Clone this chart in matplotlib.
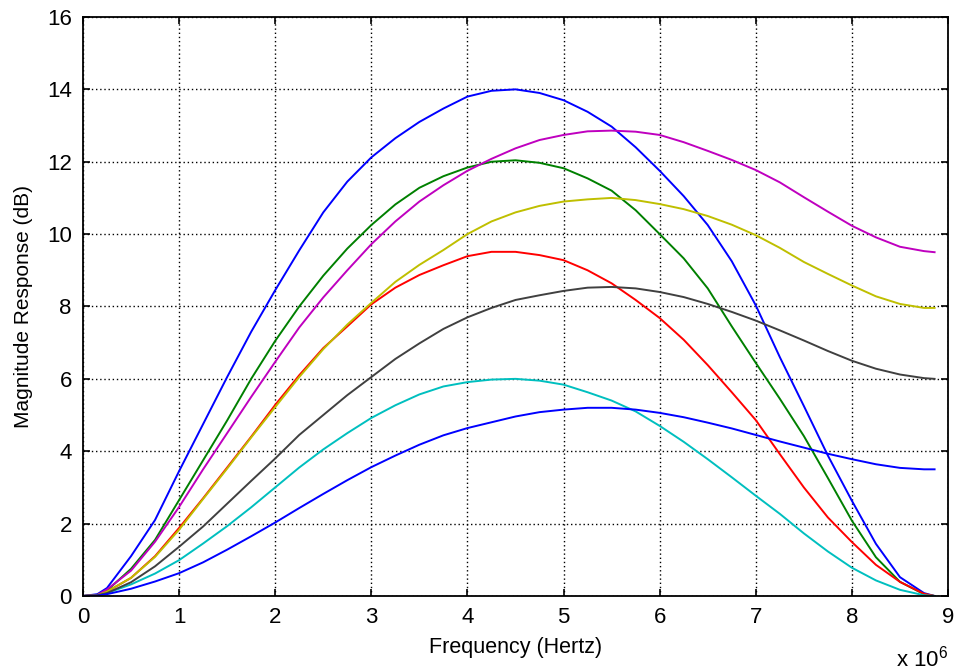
import numpy as np
import matplotlib
matplotlib.use('Agg')
import matplotlib.pyplot as plt
from matplotlib.ticker import FuncFormatter

plt.rcParams['font.family'] = ['Liberation Sans', 'DejaVu Sans']
plt.rcParams['mathtext.default'] = 'regular'

# frequency samples (MHz)
freq = [0, 0.15, 0.25, 0.5, 0.75, 1.0, 1.25, 1.5, 1.75, 2.0, 2.25, 2.5, 2.75, 3.0, 3.25, 3.5,
        3.75, 4.0, 4.25, 4.5, 4.75, 5.0, 5.25, 5.5, 5.75, 6.0, 6.25, 6.5, 6.75, 7.0, 7.25, 7.5,
        7.75, 8.0, 8.25, 8.5, 8.75, 8.86]

# magnitude responses (dB), one list per curve
blue_hi = [0, 0.05, 0.22, 1.1, 2.1, 3.45, 4.75, 6.05, 7.3, 8.45, 9.55, 10.6, 11.45, 12.12, 12.65, 13.1,
           13.47, 13.8, 13.96, 14.0, 13.9, 13.7, 13.38, 12.97, 12.4, 11.75, 11.05, 10.25, 9.25, 8.03,
           6.6, 5.25, 3.88, 2.63, 1.44, 0.52, 0.08, 0]
green = [0, 0.03, 0.15, 0.75, 1.55, 2.65, 3.75, 4.85, 6.0, 7.05, 8.0, 8.85, 9.6, 10.25, 10.82, 11.28,
         11.6, 11.84, 12.0, 12.04, 11.97, 11.82, 11.54, 11.2, 10.66, 10.0, 9.33, 8.5, 7.45, 6.44,
         5.45, 4.42, 3.26, 2.08, 1.07, 0.39, 0.05, 0]
red = [0, 0.02, 0.12, 0.5, 1.1, 1.88, 2.7, 3.55, 4.4, 5.28, 6.1, 6.85, 7.45, 8.06, 8.52, 8.87,
       9.14, 9.39, 9.51, 9.51, 9.42, 9.28, 9.0, 8.64, 8.18, 7.68, 7.08, 6.38, 5.63, 4.86,
       3.92, 3.0, 2.17, 1.49, 0.86, 0.39, 0.06, 0]
cyan = [0, 0.02, 0.08, 0.32, 0.62, 0.99, 1.45, 1.93, 2.45, 3.0, 3.55, 4.05, 4.5, 4.92, 5.27, 5.57,
        5.79, 5.91, 5.98, 6.0, 5.95, 5.84, 5.63, 5.4, 5.1, 4.7, 4.26, 3.78, 3.28, 2.77,
        2.27, 1.73, 1.23, 0.78, 0.43, 0.17, 0.02, 0]
magenta = [0, 0.03, 0.18, 0.7, 1.5, 2.46, 3.5, 4.5, 5.5, 6.47, 7.42, 8.25, 9.0, 9.72, 10.35, 10.9,
           11.35, 11.75, 12.08, 12.37, 12.6, 12.74, 12.84, 12.86, 12.83, 12.74, 12.54, 12.3, 12.05, 11.77,
           11.43, 11.02, 10.62, 10.23, 9.91, 9.65, 9.53, 9.5]
yellow = [0, 0.02, 0.12, 0.5, 1.08, 1.83, 2.68, 3.52, 4.38, 5.22, 6.05, 6.82, 7.5, 8.1, 8.68, 9.15,
          9.56, 10.0, 10.35, 10.6, 10.78, 10.9, 10.96, 11.0, 10.94, 10.83, 10.69, 10.5, 10.26, 9.97,
          9.62, 9.23, 8.9, 8.58, 8.28, 8.07, 7.96, 7.96]
gray = [0, 0.02, 0.08, 0.38, 0.82, 1.36, 1.92, 2.55, 3.18, 3.8, 4.45, 5.0, 5.55, 6.05, 6.55, 6.98,
        7.38, 7.7, 7.96, 8.18, 8.31, 8.43, 8.52, 8.54, 8.5, 8.4, 8.26, 8.07, 7.85, 7.61,
        7.34, 7.06, 6.77, 6.5, 6.28, 6.12, 6.02, 6.0]
blue_lo = [0, 0.01, 0.05, 0.2, 0.4, 0.63, 0.93, 1.28, 1.65, 2.03, 2.43, 2.82, 3.2, 3.56, 3.88, 4.18,
           4.44, 4.64, 4.8, 4.96, 5.08, 5.15, 5.2, 5.2, 5.15, 5.06, 4.94, 4.79, 4.63, 4.45,
           4.27, 4.1, 3.93, 3.78, 3.64, 3.54, 3.5, 3.5]

curves = [blue_hi, green, red, cyan, magenta, yellow, gray, blue_lo]
colors = [(0, 0, 1), (0, 0.5, 0), (1, 0, 0), (0, 0.75, 0.75),
          (0.75, 0, 0.75), (0.75, 0.75, 0), (0.25, 0.25, 0.25), (0, 0, 1)]

fig = plt.figure(figsize=(9.58, 6.71), dpi=100)
ax = fig.add_axes([0.0866, 0.1118, 0.9030, 0.8629])

f_hz = np.array(freq) * 1e6
for vals, c in zip(curves, colors):
    ax.plot(f_hz, vals, color=c, lw=1.4)

ax.set_xlim(0, 9e6)
ax.set_ylim(0, 16)
ax.set_xticks(np.arange(0, 10) * 1e6)
ax.set_yticks(np.arange(0, 17, 2))
ax.xaxis.set_major_formatter(FuncFormatter(lambda v, p: '%g' % (v / 1e6)))
ax.grid(True, color='black', linestyle=(0, (1, 2)), lw=1.0)
ax.tick_params(direction='in', top=True, right=True, length=5, width=1.2, labelsize=16)
ax.tick_params(axis='x', pad=8)
ax.tick_params(axis='y', pad=8)
for s in ax.spines.values():
    s.set_linewidth(1.3)

ax.set_xlabel('Frequency (Hertz)', fontsize=15.5)
ax.set_ylabel('Magnitude Response (dB)', fontsize=15)
ax.xaxis.set_label_coords(0.5, -0.07)
ax.yaxis.set_label_coords(-0.058, 0.5)
ax.text(1.0, -0.085, 'x 10$^{6}$', transform=ax.transAxes, ha='right', va='top', fontsize=16)

fig.savefig('out.png', dpi=100)
